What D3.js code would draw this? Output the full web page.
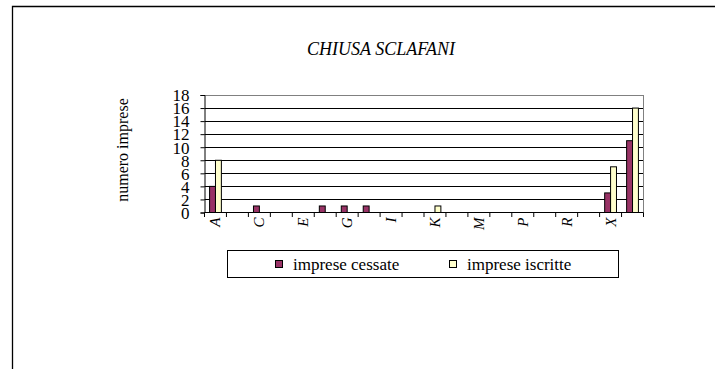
<!DOCTYPE html>
<html>
<head>
<meta charset="utf-8">
<script src="https://cdn.jsdelivr.net/npm/d3@7"></script>
<style>
  html, body { margin: 0; padding: 0; background: #fff; }
  svg { display: block; }
</style>
</head>
<body>
<svg id="chart" width="715" height="369"></svg>
<script>
const title = "CHIUSA SCLAFANI";
const yLabel = "numero imprese";
const categories = ["A","B","C","D","E","F","G","H","I","J","K","L","M","N","P","Q","R","S","X","TOT"];
const seriesNames = ["imprese cessate", "imprese iscritte"];
const cessate  = [4,0,1,0,0,1,1,1,0,0,0,0,0,0,0,0,0,0,3,11];
const iscritte = [8,0,0,0,0,0,0,0,0,0,1,0,0,0,0,0,0,0,7,16];
const yTicks = [0,2,4,6,8,10,12,14,16,18];
const colors = ["#993366", "#FFFFCC"];
const FONT = "'Liberation Serif', 'Times New Roman', Tinos, 'DejaVu Serif', serif";

const svg = d3.select("#chart");

// outer frame (left + top edges visible)
svg.append("path")
  .attr("d", "M12.5,369 L12.5,6.5 L715,6.5")
  .attr("fill", "none").attr("stroke", "#000").attr("stroke-width", 1.3);

const plot = {left: 204.5, right: 643.5, top: 95, bottom: 212.5};

const x = d3.scaleBand().domain(categories).range([plot.left, plot.right]).padding(0);
const xs = d3.scaleBand().domain(seriesNames).range([0, x.bandwidth()]).paddingInner(0).paddingOuter(0.86);
const y = d3.scaleLinear().domain([0, 18]).range([plot.bottom, plot.top]);

// gridlines
svg.append("g").selectAll("line").data(yTicks.filter(t => t > 0)).join("line")
  .attr("x1", plot.left).attr("x2", plot.right)
  .attr("y1", d => Math.round(y(d)) + 0.5).attr("y2", d => Math.round(y(d)) + 0.5)
  .attr("stroke", d => d === 18 ? "#808080" : "#000").attr("stroke-width", 1);

// right border of plot area
svg.append("line")
  .attr("x1", plot.right).attr("x2", plot.right)
  .attr("y1", plot.top).attr("y2", plot.bottom)
  .attr("stroke", "#808080").attr("stroke-width", 1);

// bars
const data = categories.map((c, i) => ({c, vals: [cessate[i], iscritte[i]]}));
const groups = svg.append("g").selectAll("g").data(data).join("g")
  .attr("transform", d => `translate(${x(d.c)},0)`);
groups.selectAll("rect")
  .data(d => d.vals.map((v, j) => ({v, s: seriesNames[j], j})).filter(e => e.v > 0))
  .join("rect")
  .attr("x", e => xs(e.s))
  .attr("width", xs.bandwidth())
  .attr("y", e => y(e.v))
  .attr("height", e => y(0) - y(e.v))
  .attr("fill", e => colors[e.j])
  .attr("stroke", "#000").attr("stroke-width", 1);

// y axis
const yAxis = d3.axisLeft(y).tickValues(yTicks).tickSize(4).tickPadding(11).tickFormat(d3.format("d"));
const gy = svg.append("g").attr("transform", `translate(${plot.left},0)`).call(yAxis)
  .attr("font-family", FONT).attr("font-size", 17);
gy.select(".domain").attr("stroke", "#000");
gy.selectAll(".tick line").attr("stroke", "#000");
gy.selectAll(".tick text")
  .style("font-family", FONT)
  .attr("font-size", 17).attr("fill", "#000").attr("dy", "0.34em");

// x axis line
svg.append("line")
  .attr("x1", plot.left).attr("x2", plot.right)
  .attr("y1", plot.bottom).attr("y2", plot.bottom)
  .attr("stroke", "#000").attr("stroke-width", 1);

// x tick marks at category boundaries
const bounds = categories.map(c => x(c)).concat([plot.right]);
svg.append("g").selectAll("line").data(bounds).join("line")
  .attr("x1", d => d).attr("x2", d => d)
  .attr("y1", plot.bottom).attr("y2", plot.bottom + 4.5)
  .attr("stroke", "#000").attr("stroke-width", 1);

// x labels (every other category), rotated
svg.append("g").selectAll("text")
  .data(categories.filter((c, i) => i % 2 === 0)).join("text")
  .attr("transform", d => `translate(${x(d) + x.bandwidth() / 2 + 5},${plot.bottom + 5}) rotate(-90)`)
  .attr("text-anchor", "end")
  .style("font-family", FONT)
  .attr("font-size", 15).attr("font-style", "italic")
  .text(d => d);

// y label
svg.append("text")
  .attr("transform", `translate(${128},${150}) rotate(-90)`)
  .attr("text-anchor", "middle")
  .style("font-family", FONT)
  .attr("font-size", 16)
  .text(yLabel);

// title
svg.append("text")
  .attr("x", 381).attr("y", 55)
  .attr("text-anchor", "middle")
  .style("font-family", FONT)
  .attr("font-size", 18).attr("font-style", "italic")
  .text(title);

// legend
const lg = svg.append("g");
lg.append("rect").attr("x", 227.5).attr("y", 250.5).attr("width", 391).attr("height", 27)
  .attr("fill", "#fff").attr("stroke", "#000").attr("stroke-width", 1);
const legendX = [275, 449];
seriesNames.forEach((s, i) => {
  lg.append("rect").attr("x", legendX[i] + 0.5).attr("y", 260.5).attr("width", 7).attr("height", 7)
    .attr("fill", colors[i]).attr("stroke", "#000").attr("stroke-width", 1);
  lg.append("text").attr("x", legendX[i] + 18).attr("y", 270)
    .style("font-family", FONT).attr("font-size", 17).text(s);
});
</script>
</body>
</html>
